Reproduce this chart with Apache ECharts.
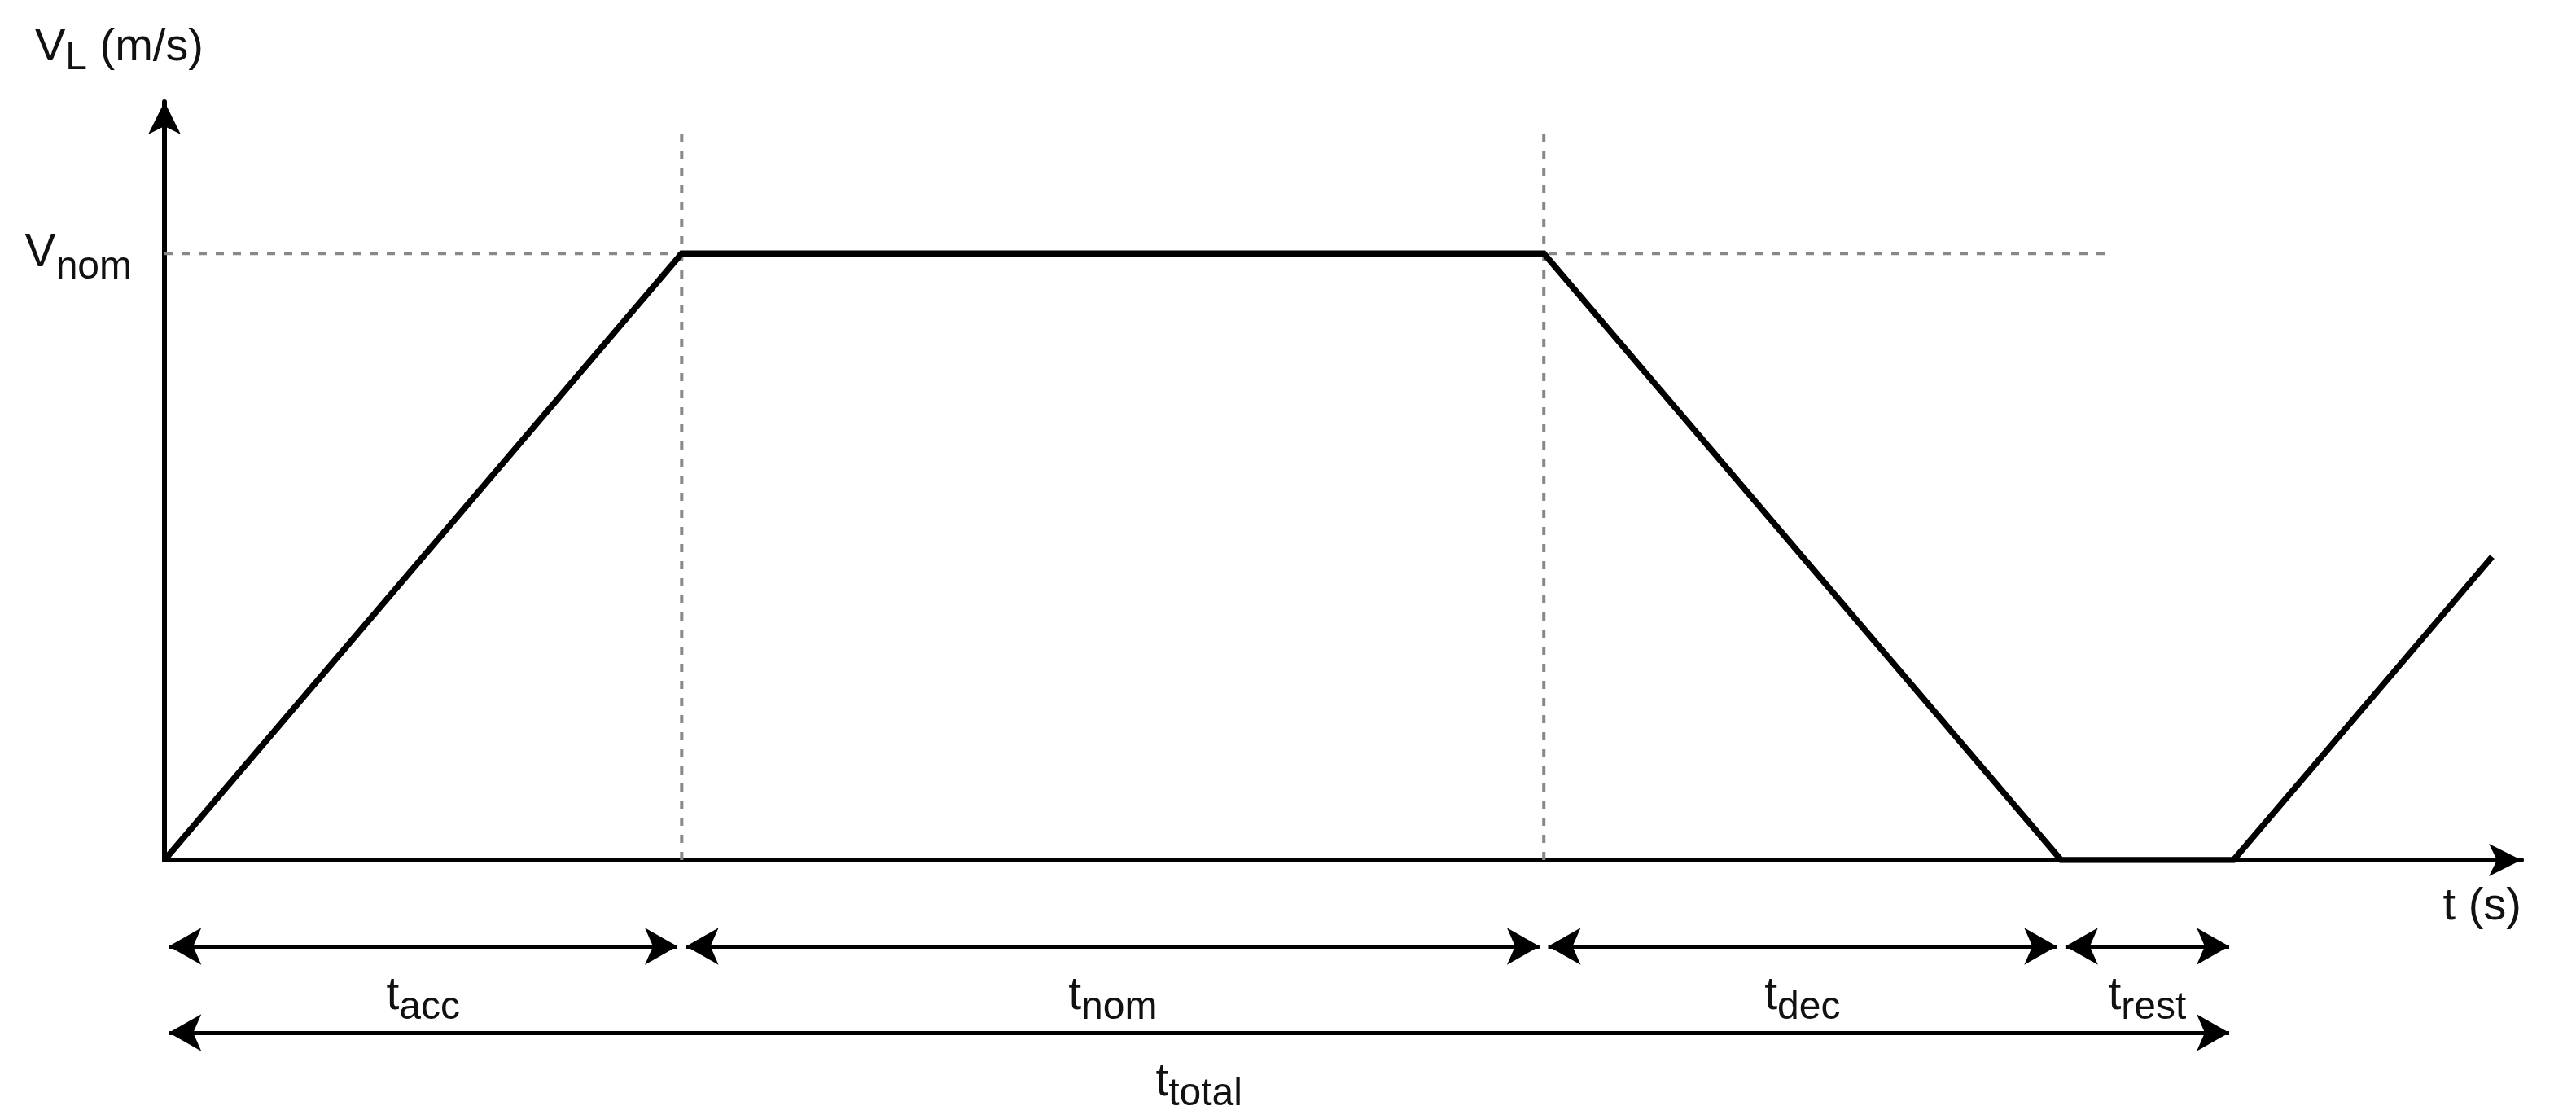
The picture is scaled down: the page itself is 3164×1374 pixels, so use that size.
<!DOCTYPE html>
<html>
<head>
<meta charset="utf-8">
<script src="https://cdn.jsdelivr.net/npm/echarts@6/dist/echarts.min.js"></script>
<style>
  html, body { margin: 0; padding: 0; background: #fff; }
  #chart { width: 3164px; height: 1374px; }
</style>
</head>
<body>
<div id="chart"></div>
<script>
// speed profile (t, V), V in units of Vnom
var tPoints = [0, 3, 8, 11, 12, 13.5];
var vPoints = [0, 1, 1, 0, 0, 0.5];
// phase boundaries and their names
var phaseBounds = [0, 3, 8, 11, 12];
var phaseNames = ['acc', 'nom', 'dec', 'rest'];
var totalName = 'total';
// y tick
var vTicks = [1];
var vTickNames = ['nom'];
// dashed guides
var guideX = [3, 8];
var guideTop = 1.21;
var vnomRight = 11.29;

var xMax = 13.67, yMax = 1.25;
var inset = 0.025;      // arrow tips pulled back from the boundaries
var font = 'Liberation Sans, Arial, sans-serif';
var ink = '#111';

var myChart = echarts.init(document.getElementById('chart'));

function richSub(pad) {
    return {
        m: { fontSize: 57, fontFamily: font, color: ink },
        s: { fontSize: 48, fontFamily: font, color: ink, padding: [pad, 0, 0, 0] }
    };
}

var profile = [];
for (var i = 0; i < tPoints.length; i++) {
    profile.push([tPoints[i], vPoints[i]]);
}

var series = [];
// guides
guideX.forEach(function (x) {
    series.push({
        type: 'line', xAxisIndex: 0, yAxisIndex: 0, z: 1,
        data: [[x, 0], [x, guideTop]],
        symbol: 'none', silent: true,
        lineStyle: { color: '#888', width: 4, type: [10, 11] }
    });
});
series.push({
    type: 'line', xAxisIndex: 0, yAxisIndex: 0, z: 1,
    data: [[0, vTicks[0]], [vnomRight, vTicks[0]]],
    symbol: 'none', silent: true,
    lineStyle: { color: '#888', width: 4, type: [10, 11] }
});
// profile
series.push({
    type: 'line', xAxisIndex: 0, yAxisIndex: 0, z: 3,
    data: profile,
    symbol: 'none',
    lineStyle: { color: '#000', width: 7.5, join: 'miter' }
});

// interval arrows
var arrows = [];
for (var j = 0; j < phaseNames.length; j++) {
    arrows.push([
        { name: phaseNames[j], coord: [phaseBounds[j] + inset, 1] },
        { coord: [phaseBounds[j + 1] - inset, 1] }
    ]);
}
arrows.push([
    { name: totalName, coord: [phaseBounds[0] + inset, 2] },
    { coord: [phaseBounds[phaseBounds.length - 1] - inset, 2] }
]);
series.push({
    type: 'line', xAxisIndex: 1, yAxisIndex: 1,
    data: [],
    markLine: {
        silent: true,
        animation: false,
        symbol: ['arrow', 'arrow'],
        symbolSize: [34, 40],
        lineStyle: { color: '#000', width: 5, type: 'solid' },
        label: {
            show: true,
            position: 'insideMiddleBottom',
            distance: 22,
            formatter: function (p) { return '{m|t}{s|' + p.name + '}'; },
            rich: richSub(30)
        },
        emphasis: { disabled: true },
        data: arrows
    }
});

var option = {
    backgroundColor: '#fff',
    animation: false,
    grid: [
        { left: 202, top: 125, width: 2895, height: 931 },
        { left: 202, top: 1056, width: 2895, height: 265 }
    ],
    xAxis: [
        {
            type: 'value', gridIndex: 0, min: 0, max: xMax,
            splitLine: { show: false },
            axisTick: { show: false },
            axisLabel: { show: false },
            axisLine: {
                onZero: false,
                lineStyle: { color: '#000', width: 6 },
                symbol: ['none', 'arrow'],
                symbolSize: [30, 40]
            },
            name: '{a|t (s)}',
            nameLocation: 'end',
            nameGap: 0,
            nameMoveOverlap: false,
            nameTextStyle: {
                align: 'right', verticalAlign: 'middle',
                rich: { a: { fontSize: 56, fontFamily: font, color: ink, padding: [116, 0, 0, 0] } }
            }
        },
        {
            type: 'value', gridIndex: 1, min: 0, max: xMax, show: false
        }
    ],
    yAxis: [
        {
            type: 'value', gridIndex: 0, min: 0, max: yMax,
            splitLine: { show: false },
            axisTick: { show: false },
            axisLine: {
                onZero: false,
                lineStyle: { color: '#000', width: 6 },
                symbol: ['none', 'arrow'],
                symbolSize: [30, 40]
            },
            axisLabel: {
                customValues: vTicks,
                margin: 40,
                formatter: function (v) {
                    return '{m|V}{s|' + vTickNames[vTicks.indexOf(v)] + '}';
                },
                rich: richSub(36)
            },
            name: 'V{s|L} (m/s)',
            nameLocation: 'end',
            nameGap: 66,
            nameMoveOverlap: false,
            nameTextStyle: {
                fontSize: 56, fontFamily: font, color: ink,
                align: 'right', verticalAlign: 'middle',
                padding: [0, -48, 0, 0],
                rich: { s: { fontSize: 48, fontFamily: font, color: ink, padding: [26, 0, 0, 0] } }
            }
        },
        {
            type: 'value', gridIndex: 1, min: 0, max: 2.5, inverse: true, show: false
        }
    ],
    series: series
};
myChart.setOption(option);
</script>
</body>
</html>
